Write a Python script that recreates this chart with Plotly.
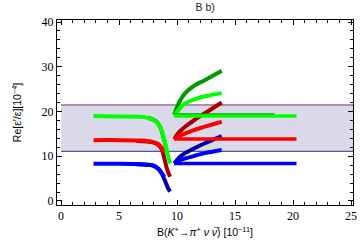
import plotly.graph_objects as go

# ---- data ----
band_lo = 11.1
band_hi = 21.45
band_x = [0, 26]

# left-side curves
green_bright_left_x = [2.8, 5.0, 7.0, 7.9, 8.4, 8.7, 9.0, 9.2, 9.4]
green_bright_left_y = [19.0, 18.9, 18.8, 18.2, 17.2, 15.6, 12.6, 10.3, 8.4]
green_dark_left_x = [7.5, 8.2, 8.55, 8.8, 9.0, 9.1]
green_dark_left_y = [18.6, 17.8, 16.5, 14.5, 12.5, 11.0]

red_bright_left_x = [2.8, 5.0, 7.0, 7.9, 8.4, 8.7, 8.9]
red_bright_left_y = [13.6, 13.6, 13.5, 13.2, 12.7, 11.8, 10.8]
red_dark_left_x = [6.5, 7.9, 8.4, 8.7, 8.95, 9.15, 9.4]
red_dark_left_y = [13.4, 13.1, 12.5, 11.4, 9.0, 7.0, 5.4]

blue_bright_left_x = [2.8, 5.0, 7.0, 7.9, 8.4, 8.7, 8.9]
blue_bright_left_y = [8.3, 8.3, 8.2, 8.0, 7.2, 6.2, 5.4]
blue_dark_left_x = [6.5, 7.9, 8.4, 8.7, 9.0, 9.2, 9.4]
blue_dark_left_y = [8.2, 7.9, 7.1, 6.0, 4.3, 3.0, 2.1]

# right-side fans
green_dark_up_x = [9.75, 10.0, 10.3, 10.7, 11.5, 12.4, 13.85]
green_dark_up_y = [19.3, 21.0, 22.6, 24.1, 25.8, 27.0, 29.1]
green_bright_up_x = [9.75, 10.1, 10.7, 11.8, 12.8, 13.85]
green_bright_up_y = [19.0, 20.3, 21.8, 23.0, 23.6, 24.1]
green_dark_flat_x = [9.75, 14.0, 18.4]
green_dark_flat_y = [19.25, 19.25, 19.25]
green_flat_x = [9.75, 15.0, 20.3]
green_flat_y = [19.0, 19.0, 19.0]

red_dark_up_x = [9.75, 10.0, 10.3, 10.7, 11.5, 12.4, 13.85]
red_dark_up_y = [13.8, 14.8, 15.7, 16.6, 18.1, 19.6, 22.0]
red_bright_up_x = [9.75, 10.2, 10.7, 11.5, 12.4, 13.85]
red_bright_up_y = [13.8, 14.5, 15.1, 15.9, 16.6, 17.7]
red_flat_x = [9.75, 15.0, 20.3]
red_flat_y = [13.85, 13.85, 13.85]

blue_dark_up_x = [9.75, 10.0, 10.3, 10.7, 11.5, 12.4, 13.85]
blue_dark_up_y = [8.4, 9.2, 10.0, 10.7, 11.8, 12.9, 14.5]
blue_bright_up_x = [9.75, 10.2, 10.7, 11.5, 12.4, 13.85]
blue_bright_up_y = [8.4, 9.0, 9.5, 10.1, 10.7, 11.4]
blue_flat_x = [9.75, 15.0, 20.3]
blue_flat_y = [8.4, 8.4, 8.4]

# ---- styles ----
BG = "#00ff00"; DG = "#009a00"
BR = "#ff0000"; DR = "#a80000"
BB = "#0000ff"; DB = "#0000a8"

fig = go.Figure()

# band
fig.add_trace(go.Scatter(x=[band_x[0], band_x[1], band_x[1], band_x[0], band_x[0]],
                         y=[band_lo, band_lo, band_hi, band_hi, band_lo],
                         fill="toself", fillcolor="#d9d9ea", line=dict(width=0),
                         mode="lines", hoverinfo="skip", showlegend=False))
fig.add_trace(go.Scatter(x=band_x, y=[band_hi, band_hi], mode="lines",
                         line=dict(color="#b08cb4", width=2), showlegend=False))
fig.add_trace(go.Scatter(x=band_x, y=[band_lo, band_lo], mode="lines",
                         line=dict(color="#55559c", width=1.3), showlegend=False))

def curve(x, y, color, w=4):
    fig.add_trace(go.Scatter(x=x, y=y, mode="lines",
                             line=dict(color=color, width=w, shape="spline", smoothing=0.8),
                             showlegend=False))

# dark first, bright on top
curve(blue_dark_left_x, blue_dark_left_y, DB)
curve(blue_bright_left_x, blue_bright_left_y, BB)
curve(red_dark_left_x, red_dark_left_y, DR)
curve(red_bright_left_x, red_bright_left_y, BR)
curve(green_dark_left_x, green_dark_left_y, DG)
curve(green_bright_left_x, green_bright_left_y, BG)

curve(blue_dark_up_x, blue_dark_up_y, DB)
curve(blue_bright_up_x, blue_bright_up_y, BB)
curve(blue_flat_x, blue_flat_y, BB, 3.5)
curve(red_dark_up_x, red_dark_up_y, DR)
curve(red_bright_up_x, red_bright_up_y, BR)
curve(red_flat_x, red_flat_y, BR, 3.5)
curve(green_dark_up_x, green_dark_up_y, DG)
curve(green_bright_up_x, green_bright_up_y, BG)
curve(green_dark_flat_x, green_dark_flat_y, DG, 3)
curve(green_flat_x, green_flat_y, BG, 3.5)

axis_common = dict(
    showgrid=False, zeroline=False, showline=True, linecolor="black", linewidth=1,
    mirror="allticks", ticks="inside", ticklen=5, tickcolor="black", tickwidth=1,
    tickfont=dict(family="Liberation Serif", size=12, color="black"),
    automargin=False,
)

fig.update_xaxes(range=[-0.35, 25.17], tickmode="array", tickvals=[0, 5, 10, 15, 20, 25],
                 minor=dict(ticks="inside", ticklen=3, dtick=1, tick0=0, tickcolor="black"),
                 title=dict(text="B(<i>K</i><sup>+</sup>→<i>π</i><sup>+</sup> <i>ν</i> <i>ν̅</i>) [10<sup>−11</sup>]",
                            font=dict(family="Liberation Sans", size=10.5, color="black"),
                            standoff=6),
                 **axis_common)
fig.update_yaxes(range=[-0.9, 40.45], tickmode="array", tickvals=[0, 10, 20, 30, 40],
                 minor=dict(ticks="inside", ticklen=3, dtick=2, tick0=0, tickcolor="black"),
                 title=dict(text="Re[ε′/ε][10<sup>−4</sup>]",
                            font=dict(family="Liberation Sans", size=10.5, color="black"),
                            standoff=17),
                 **axis_common)

fig.update_layout(
    width=360, height=248,
    margin=dict(l=57, r=7, t=20, b=43, autoexpand=False),
    paper_bgcolor="white", plot_bgcolor="white",
    title=dict(text="B b)", x=0.57, xanchor="center", y=0.985, yanchor="top",
               font=dict(family="Liberation Sans", size=10.5, color="#222222"),
               automargin=False),
    showlegend=False,
)

fig.write_html("out.html", config={"displayModeBar": False},
               post_script="document.body.style.margin='0';document.body.style.padding='0';")
